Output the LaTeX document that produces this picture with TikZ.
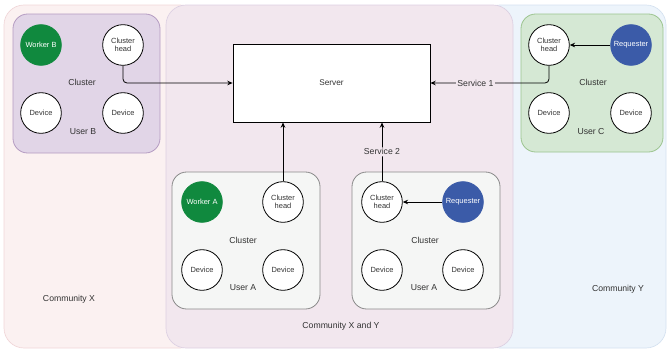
\documentclass[tikz,border=0pt]{standalone}
\usepackage{fontspec}
\setmainfont{Liberation Sans}
\usetikzlibrary{arrows.meta}
\definecolor{cxfill}{HTML}{FBF1F1}
\definecolor{cxline}{HTML}{F0D6D8}
\definecolor{cyfill}{HTML}{EDF4FB}
\definecolor{cyline}{HTML}{D4E1F0}
\definecolor{cxyfill}{HTML}{F2E7EE}
\definecolor{cxyline}{HTML}{DCD0E2}
\definecolor{purplefill}{HTML}{E1D5E7}
\definecolor{purpleline}{HTML}{B49BC2}
\definecolor{greenfill}{HTML}{D5E8D4}
\definecolor{greenline}{HTML}{9CC48F}
\definecolor{grayfill}{HTML}{F5F6F5}
\definecolor{grayline}{HTML}{8A8A8A}
\definecolor{workergreen}{HTML}{10893E}
\definecolor{reqblue}{HTML}{3B5BA8}
\definecolor{txt}{HTML}{333333}
\tikzset{
  region/.style={rounded corners=15pt, line width=0.5pt},
  clusterbox/.style={rounded corners=11pt, line width=0.6pt},
  dev/.style={circle, draw=black, fill=white, line width=0.6pt, minimum size=30.5pt, inner sep=0pt, font=\fontsize{5.6}{6.4}\selectfont, align=center, text=txt},
  worker/.style={dev, draw=workergreen, fill=workergreen, text=white},
  requester/.style={dev, draw=reqblue, fill=reqblue, text=white},
  lbl/.style={font=\fontsize{6.5}{7.5}\selectfont, text=txt, inner sep=1pt},
  conn/.style={draw=black, line width=0.6pt, -{Stealth[length=4pt,width=3.4pt]}, rounded corners=3pt},
}
\begin{document}
\begin{tikzpicture}[x=0.75pt,y=-0.75pt]
\useasboundingbox (0,0) rectangle (667,351);
% communities
\path[region, fill=cxfill, draw=cxline] (4,5) rectangle (200,348);
\path[region, fill=cyfill, draw=cyline] (480,5) rectangle (666,348);
\path[region, fill=cxyfill, draw=cxyline] (166,5) rectangle (513,348);
\node[lbl] (cx) at (69,299) {Community X};
\node[lbl] (cy) at (618,289) {Community Y};
\node[lbl] (cxy) at (341,326) {Community X and Y};
% cluster boxes
\path[clusterbox, fill=purplefill, draw=purpleline] (13,14) rectangle (160,153);
\path[clusterbox, fill=greenfill, draw=greenline] (521,14) rectangle (663,152);
\path[clusterbox, fill=grayfill, draw=grayline] (172,172) rectangle (320,309);
\path[clusterbox, fill=grayfill, draw=grayline] (352,172) rectangle (500,309);
% server
\node[draw=black, fill=white, line width=0.6pt, minimum width=147.75pt, minimum height=58.5pt, inner sep=0pt, font=\fontsize{6.2}{7}\selectfont, text=txt] (server) at (331.5,83) {Server};
% User B
\node[worker] (wb) at (41,45) {Worker B};
\node[dev] (chb) at (123,45) {Cluster\\head};
\node[dev] (db1) at (41,113) {Device};
\node[dev] (db2) at (123,113) {Device};
\node[lbl] (clb) at (82,82) {Cluster};
\node[lbl] (ub) at (83,132) {User B};
% User C
\node[dev] (chc) at (549,45) {Cluster\\head};
\node[requester] (rc) at (631,45) {Requester};
\node[dev] (dc1) at (549,113) {Device};
\node[dev] (dc2) at (631,113) {Device};
\node[lbl] (clc) at (593,82) {Cluster};
\node[lbl] (uc) at (591,132) {User C};
% User A left
\node[worker] (wa) at (202,202) {Worker A};
\node[dev] (cha) at (283,202) {Cluster\\head};
\node[dev] (da1) at (202,270) {Device};
\node[dev] (da2) at (283,270) {Device};
\node[lbl] (cla) at (243,240) {Cluster};
\node[lbl] (ua) at (243,288) {User A};
% User A right
\node[dev] (chr) at (382,202) {Cluster\\head};
\node[requester] (rr) at (463,202) {Requester};
\node[dev] (dr1) at (382,270) {Device};
\node[dev] (dr2) at (463,270) {Device};
\node[lbl] (clr) at (425,240) {Cluster};
\node[lbl] (ur) at (424,288) {User A};
% connectors
\draw[conn] (chb.south) |- (server.west);
\draw[conn] (chc.south) |- node[pos=0.81, fill=cxyfill, lbl] (s1) {Service 1} (server.east);
\draw[conn] (cha.north) -- (cha.north |- server.south);
\draw[conn] (chr.north) -- node[pos=0.5, fill=cxyfill, lbl] (s2) {Service 2} (chr.north |- server.south);
\draw[conn] (rc) -- (chc);
\draw[conn] (rr) -- (chr);
\end{tikzpicture}
\end{document}
